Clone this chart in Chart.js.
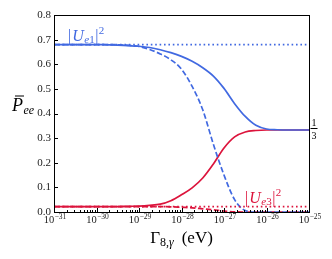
<!DOCTYPE html>
<html>
<head>
<meta charset="utf-8">
<script src="https://cdn.jsdelivr.net/npm/chart.js@4.4.1/dist/chart.umd.min.js"></script>
<style>
  html, body { margin: 0; padding: 0; background: #fff; }
  #wrap { width: 332px; height: 259px; }
</style>
</head>
<body>
<div id="wrap"><canvas id="chart" width="332" height="259"></canvas></div>
<script>
// log10 of Gamma_{8,gamma} in eV
const logGamma = [-31, -30.75, -30.5, -30.25, -30, -29.75, -29.5, -29.25, -29, -28.75, -28.5, -28.25,
  -28, -27.75, -27.5, -27.25, -27, -26.75, -26.5, -26.25, -26, -25.75, -25.5, -25.25, -25];

const ue1Solid = [0.680, 0.680, 0.680, 0.680, 0.680, 0.679, 0.678, 0.676, 0.673, 0.668, 0.659, 0.647,
  0.632, 0.612, 0.586, 0.552, 0.502, 0.440, 0.388, 0.352, 0.337, 0.334, 0.333, 0.333, 0.333];
const ue1Dashed = [0.680, 0.680, 0.680, 0.680, 0.680, 0.680, 0.679, 0.677, 0.672, 0.660, 0.642, 0.618,
  0.580, 0.510, 0.415, 0.275, 0.150, 0.050, 0.006, 0, 0, 0, 0, 0, 0];
const ue3Solid = [0.022, 0.022, 0.022, 0.022, 0.022, 0.022, 0.022, 0.023, 0.024, 0.027, 0.032, 0.046,
  0.070, 0.098, 0.138, 0.195, 0.260, 0.305, 0.325, 0.331, 0.333, 0.333, 0.333, 0.333, 0.333];
const ue3Dashed = [0.022, 0.022, 0.022, 0.022, 0.022, 0.022, 0.022, 0.022, 0.022, 0.022, 0.022, 0.021,
  0.019, 0.017, 0.013, 0.009, 0.004, 0.001, 0, 0, 0, 0, 0, 0, 0];

// horizontal reference levels |U_e1|^2 and |U_e3|^2
const logGammaEnds = [-31, -25];
const ue1Dotted = [0.68, 0.68];
const ue3Dotted = [0.022, 0.022];

const xTicks = [-31, -30, -29, -28, -27, -26, -25];
const xTickExponents = ["−31", "−30", "−29", "−28", "−27", "−26", "−25"];
const yTicks = [0, 0.1, 0.2, 0.3, 0.4, 0.5, 0.6, 0.7, 0.8];

const BLUE = "#4169e1";
const RED = "#dc143c";
const SERIF = "'Liberation Serif', 'DejaVu Serif', serif";

function pts(xs, ys) {
  return xs.map((x, i) => ({ x: x, y: ys[i] }));
}

function line(data, color, dash) {
  return {
    data: data,
    borderColor: color,
    borderWidth: 1.7,
    borderDash: dash,
    pointRadius: 0,
    cubicInterpolationMode: "monotone",
    fill: false
  };
}

function drawParts(ctx, x, y, parts, color) {
  ctx.fillStyle = color;
  ctx.textAlign = "left";
  ctx.textBaseline = "alphabetic";
  parts.forEach(p => {
    ctx.font = (p.it ? "italic " : "") + p.size + "px " + SERIF;
    ctx.fillText(p.t, x, y + (p.dy || 0));
    x += ctx.measureText(p.t).width + (p.gap || 0);
  });
  return x;
}

function partsWidth(ctx, parts) {
  let w = 0;
  parts.forEach(p => {
    ctx.font = (p.it ? "italic " : "") + p.size + "px " + SERIF;
    w += ctx.measureText(p.t).width + (p.gap || 0);
  });
  return w;
}

const decorations = {
  id: "decorations",
  afterDatasetsDraw(chart) {
    const ctx = chart.ctx;
    const area = chart.chartArea;
    const xs = chart.scales.x;
    const ys = chart.scales.y;
    ctx.save();

    // frame
    ctx.strokeStyle = "#000";
    ctx.lineWidth = 1;
    ctx.strokeRect(Math.round(area.left) + 0.5, Math.round(area.top) + 0.5,
      Math.round(area.right - area.left), Math.round(area.bottom - area.top));

    // inward ticks
    ctx.beginPath();
    xTicks.forEach(v => {
      const px = Math.round(xs.getPixelForValue(v)) + 0.5;
      ctx.moveTo(px, area.bottom);
      ctx.lineTo(px, area.bottom - 4);
    });
    for (let n = -31; n < -25; n++) {
      for (let k = 2; k <= 9; k++) {
        const px = Math.round(xs.getPixelForValue(n + Math.log10(k))) + 0.5;
        ctx.moveTo(px, area.bottom);
        ctx.lineTo(px, area.bottom - 2);
      }
    }
    yTicks.forEach(v => {
      const py = Math.round(ys.getPixelForValue(v)) + 0.5;
      ctx.moveTo(area.left, py);
      ctx.lineTo(area.left + 4, py);
    });
    ctx.stroke();

    // x tick labels 10^n
    xTicks.forEach((v, i) => {
      const parts = [
        { t: "10", size: 10.5, gap: 0.5 },
        { t: xTickExponents[i], size: 7.5, dy: -4.5 }
      ];
      const w = partsWidth(ctx, parts);
      drawParts(ctx, xs.getPixelForValue(v) - w / 2 + 1, area.bottom + 11, parts, "#222");
    });

    // curve labels
    drawParts(ctx, area.left + 14, ys.getPixelForValue(ue1Dotted[0]) - 4, [
      { t: "|", size: 16, gap: 1 },
      { t: "U", size: 16, it: true, gap: 0.5 },
      { t: "e", size: 11, it: true, dy: 2.5 },
      { t: "1", size: 11, dy: 2.5, gap: 0.5 },
      { t: "|", size: 16, gap: 0.5 },
      { t: "2", size: 11, dy: -7 }
    ], BLUE);
    drawParts(ctx, 245, ys.getPixelForValue(ue3Dotted[0]) - 4, [
      { t: "|", size: 16, gap: 1 },
      { t: "U", size: 16, it: true, gap: 0.5 },
      { t: "e", size: 11, it: true, dy: 2.5 },
      { t: "3", size: 11, dy: 2.5, gap: 0.5 },
      { t: "|", size: 16, gap: 0.5 },
      { t: "2", size: 11, dy: -7 }
    ], RED);

    // 1/3 at the right edge
    const third = ys.getPixelForValue(1 / 3);
    ctx.fillStyle = "#000";
    ctx.font = "10px " + SERIF;
    ctx.textAlign = "center";
    ctx.fillText("1", area.right + 5, third - 4);
    ctx.fillText("3", area.right + 5, third + 9);
    ctx.fillRect(area.right + 1.5, Math.round(third) - 2, 7, 1);

    // y label: P-bar ee
    drawParts(ctx, 12, ys.getPixelForValue(0.4) - 3, [
      { t: "P", size: 18, it: true, gap: 0.5 },
      { t: "ee", size: 12, it: true, dy: 3 }
    ], "#000");
    ctx.fillRect(15, ys.getPixelForValue(0.4) - 18, 9, 1);

    // x title
    const xParts = [
      { t: "Γ", size: 17 },
      { t: "8,", size: 12, dy: 3 },
      { t: "γ", size: 12, it: true, dy: 3, gap: 8 },
      { t: "(eV)", size: 17 }
    ];
    const w = partsWidth(ctx, xParts);
    drawParts(ctx, (area.left + area.right) / 2 - w / 2, 243, xParts, "#000");

    ctx.restore();
  }
};

new Chart(document.getElementById("chart"), {
  type: "line",
  data: {
    datasets: [
      line(pts(logGammaEnds, ue1Dotted), BLUE, [1.6, 2.8]),
      line(pts(logGammaEnds, ue3Dotted), RED, [1.6, 2.8]),
      line(pts(logGamma, ue1Dashed), BLUE, [5.5, 2.5]),
      line(pts(logGamma, ue3Dashed), RED, [5.5, 2.5]),
      line(pts(logGamma, ue1Solid), BLUE, []),
      line(pts(logGamma, ue3Solid), RED, [])
    ]
  },
  options: {
    responsive: false,
    devicePixelRatio: 1,
    animation: false,
    layout: { padding: { left: 0, top: 15, right: 23, bottom: 0 } },
    plugins: { legend: { display: false }, tooltip: { enabled: false } },
    scales: {
      x: {
        type: "linear",
        min: -31,
        max: -25,
        afterFit(scale) { scale.height = 47; },
        afterBuildTicks(scale) { scale.ticks = xTicks.map(v => ({ value: v })); },
        grid: { display: false, drawTicks: false },
        border: { display: false },
        ticks: { display: false }
      },
      y: {
        min: 0,
        max: 0.8,
        afterFit(scale) { scale.width = 54; },
        afterBuildTicks(scale) { scale.ticks = yTicks.map(v => ({ value: v })); },
        grid: { display: false, drawTicks: false },
        border: { display: false },
        ticks: {
          padding: 3,
          color: "#222",
          font: { family: SERIF, size: 11 },
          callback: (v) => v.toFixed(1)
        }
      }
    }
  },
  plugins: [decorations]
});
</script>
</body>
</html>
